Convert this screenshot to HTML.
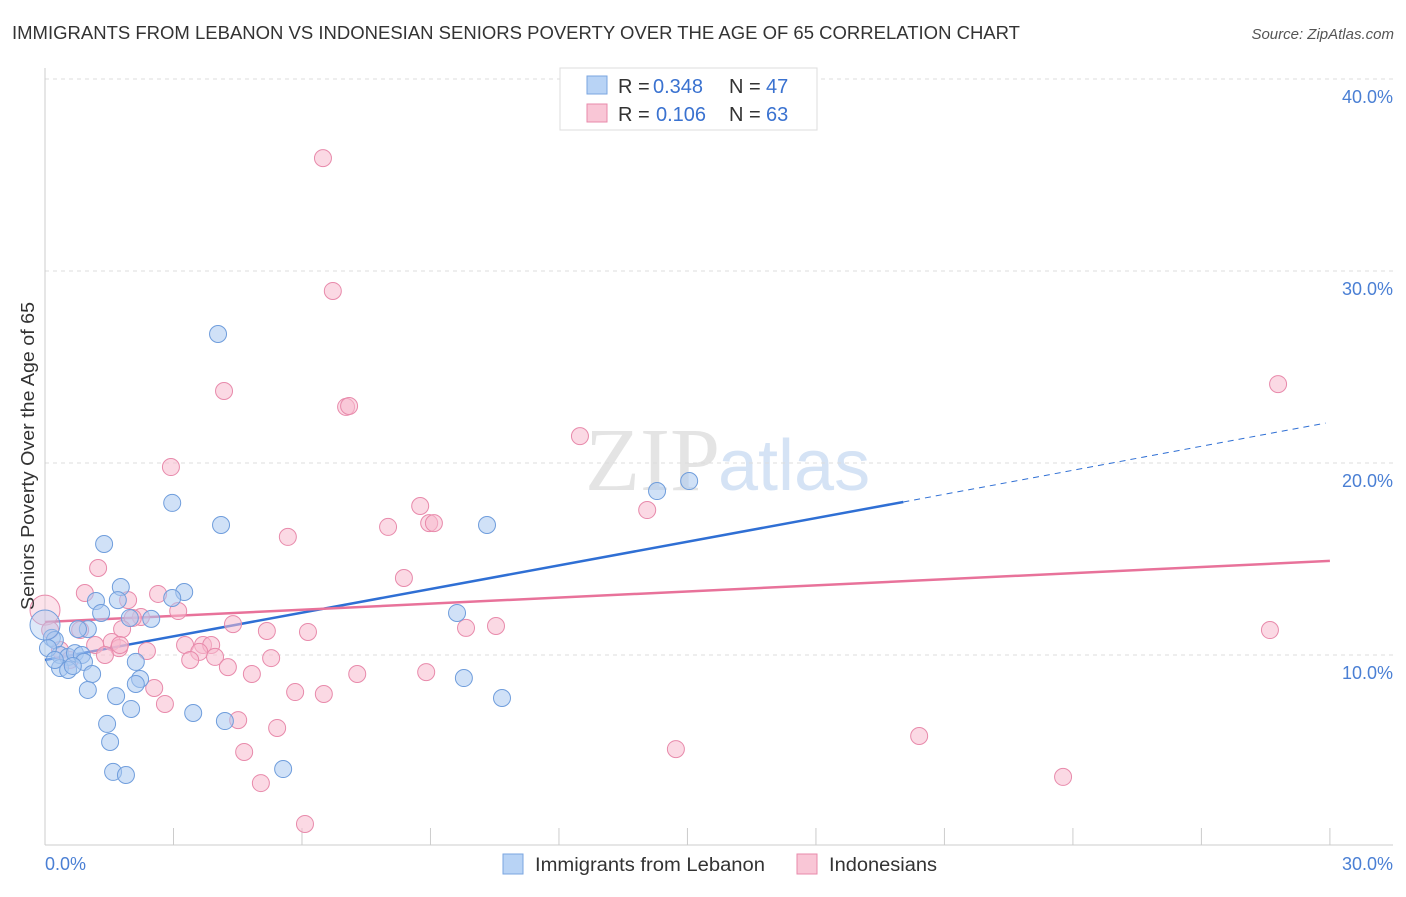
<!DOCTYPE html>
<html><head><meta charset="utf-8"><style>
body{margin:0;background:#fff;font-family:"Liberation Sans",sans-serif}
</style></head><body>
<svg width="1406" height="892" xmlns="http://www.w3.org/2000/svg">
<text x="12" y="39" font-size="18" fill="#333" textLength="1008" lengthAdjust="spacingAndGlyphs">IMMIGRANTS FROM LEBANON VS INDONESIAN SENIORS POVERTY OVER THE AGE OF 65 CORRELATION CHART</text>
<text x="1394" y="39" font-size="15" fill="#555" font-style="italic" text-anchor="end">Source: ZipAtlas.com</text>
<text x="720" y="490" font-size="90" fill="#e4e4e4" text-anchor="end" font-family="Liberation Serif">ZIP</text>
<text x="718" y="490" font-size="72" fill="#d5e3f5">atlas</text>
<g id="grid"></g><g id="axes"></g><g id="lines"></g><g id="pts"></g>
<text x="34" y="456" font-size="18" fill="#333" text-anchor="middle" textLength="308" lengthAdjust="spacingAndGlyphs" transform="rotate(-90 34 456)">Seniors Poverty Over the Age of 65</text>
<text x="45" y="870" font-size="18" fill="#4a7fd4">0.0%</text>
<text x="1393" y="870" font-size="18" fill="#4a7fd4" text-anchor="end">30.0%</text>
<g>
<rect x="560" y="68" width="257" height="62" fill="#fff" stroke="#ddd"/>
<rect x="587" y="76" width="20" height="18" fill="#b8d3f5" stroke="#7aa6e0"/>
<rect x="587" y="104" width="20" height="18" fill="#f9c6d6" stroke="#e88aab"/>
<text y="93" font-size="20" fill="#333"><tspan x="618">R =</tspan><tspan x="653" fill="#3a72d0">0.348</tspan><tspan x="729">N =</tspan><tspan x="766" fill="#3a72d0">47</tspan></text>
<text y="121" font-size="20" fill="#333"><tspan x="618">R =</tspan><tspan x="656" fill="#3a72d0">0.106</tspan><tspan x="729">N =</tspan><tspan x="766" fill="#3a72d0">63</tspan></text>
</g>
<g>
<rect x="503" y="854" width="20" height="20" fill="#b8d3f5" stroke="#7aa6e0"/>
<text x="535" y="871" font-size="19" fill="#333" textLength="230" lengthAdjust="spacingAndGlyphs">Immigrants from Lebanon</text>
<rect x="797" y="854" width="20" height="20" fill="#f9c6d6" stroke="#e88aab"/>
<text x="829" y="871" font-size="19" fill="#333" textLength="108" lengthAdjust="spacingAndGlyphs">Indonesians</text>
</g>
</svg>
<script>
const yTicks=[10,20,30,40];
const yTickLabels=["10.0%","20.0%","30.0%","40.0%"];
const xTicks=[3,6,9,12,15,18,21,24,27,30];
const blueX=[4.04,2.97,4.11,1.38,10.32,14.29,15.04,1.77,3.25,1.19,1.70,2.97,1.31,1.98,2.48,1.00,0.77,0.16,0.23,0.35,0.54,0.70,0.86,0.91,0.35,0.54,0.65,1.10,2.12,2.22,2.12,1.00,1.66,2.01,3.46,1.45,4.20,1.52,1.59,1.89,5.56,9.62,9.78,10.67,0.07,0.23,0.0];
const blueY=[26.72,17.92,16.77,15.78,16.77,18.54,19.06,13.54,13.28,12.81,12.86,12.97,12.19,11.93,11.88,11.35,11.35,10.89,10.78,10.0,9.90,10.10,10.0,9.64,9.32,9.22,9.43,9.01,9.64,8.75,8.49,8.18,7.86,7.19,6.98,6.41,6.56,5.47,3.91,3.75,4.06,12.19,8.80,7.76,10.36,9.74,11.56];
const pinkX=[6.49,6.72,4.18,7.03,7.10,12.49,2.94,8.76,14.06,8.01,8.97,9.08,5.67,1.24,8.38,0.93,2.64,1.94,3.11,2.24,2.05,1.80,4.39,5.18,6.14,9.83,10.53,28.60,28.79,1.56,1.73,2.38,3.69,3.88,3.27,3.60,3.39,3.97,4.27,5.28,4.83,7.29,8.90,5.84,6.51,2.55,2.80,4.51,5.42,4.65,5.04,6.07,14.73,20.41,23.77,0.35,0.58,0.82,1.17,0,0.12,1.40,1.75];
const pinkY=[35.88,28.96,23.75,22.92,22.97,21.40,19.79,17.76,17.55,16.67,16.87,16.87,16.15,14.53,14.01,13.23,13.18,12.86,12.29,11.98,11.93,11.35,11.61,11.25,11.20,11.41,11.51,11.30,24.11,10.68,10.36,10.21,10.52,10.52,10.52,10.16,9.74,9.90,9.37,9.84,9.01,9.01,9.11,8.07,7.97,8.28,7.45,6.61,6.20,4.95,3.33,1.20,5.10,5.78,3.65,10.26,9.74,11.30,10.52,12.34,11.30,10.0,10.52];
const blueLine=[9.74,17.97,22.08];
const blueLineX=[0,20.04,29.9];
const pinkLine=[11.72,14.90];
const pinkLineX=[0,30];
const NS="http://www.w3.org/2000/svg";
const X=v=>45+v*42.83, Y=v=>847-v*19.2;
function mk(p,t,a){const e=document.createElementNS(NS,t);for(const k in a)e.setAttribute(k,a[k]);document.getElementById(p).appendChild(e);return e;}
yTicks.forEach((t,i)=>{
 const g=mk('grid','line',{x1:45,x2:1393,y1:Y(t),y2:Y(t),stroke:'#ddd','stroke-dasharray':'4,4'});
 
 
 const l=mk('grid','text',{x:1393,y:Y(t)+24,'font-size':18,fill:'#4a7fd4','text-anchor':'end'});
 l.textContent=yTickLabels[i];
 
 
});
const ax=mk('axes','line',{x1:45,x2:45,y1:68,y2:845,stroke:'#ccc'});


const bx=mk('axes','line',{x1:45,x2:1393,y1:845,y2:845,stroke:'#ccc'});


xTicks.forEach(t=>{const e=mk('axes','line',{x1:X(t),x2:X(t),y1:828,y2:845,stroke:'#ccc'});
 
 });
function dots(xs,ys,fill,stroke,name){xs.forEach((x,i)=>{const big=(x===0);
 const c=mk('pts','circle',{cx:X(x),cy:Y(ys[i]),r:big?15:8.5,fill:fill,'fill-opacity':big?0.4:0.55,stroke:stroke,'stroke-width':1});
 
 });}
dots(pinkX,pinkY,'#f7b9cd','#e88aab','indonesians-point');
dots(blueX,blueY,'#a9c8f0','#6f9ddc','lebanon-point');
const b1=mk('lines','line',{x1:X(blueLineX[0]),y1:Y(blueLine[0]),x2:X(blueLineX[1]),y2:Y(blueLine[1]),stroke:'#2f6fd4','stroke-width':2.5});


const b2=mk('lines','line',{x1:X(blueLineX[1]),y1:Y(blueLine[1]),x2:X(blueLineX[2]),y2:Y(blueLine[2]),stroke:'#2f6fd4','stroke-width':1,'stroke-dasharray':'6,5'});


const p1=mk('lines','line',{x1:X(pinkLineX[0]),y1:Y(pinkLine[0]),x2:X(pinkLineX[1]),y2:Y(pinkLine[1]),stroke:'#e8729a','stroke-width':2.5});


</script>
</body></html>
